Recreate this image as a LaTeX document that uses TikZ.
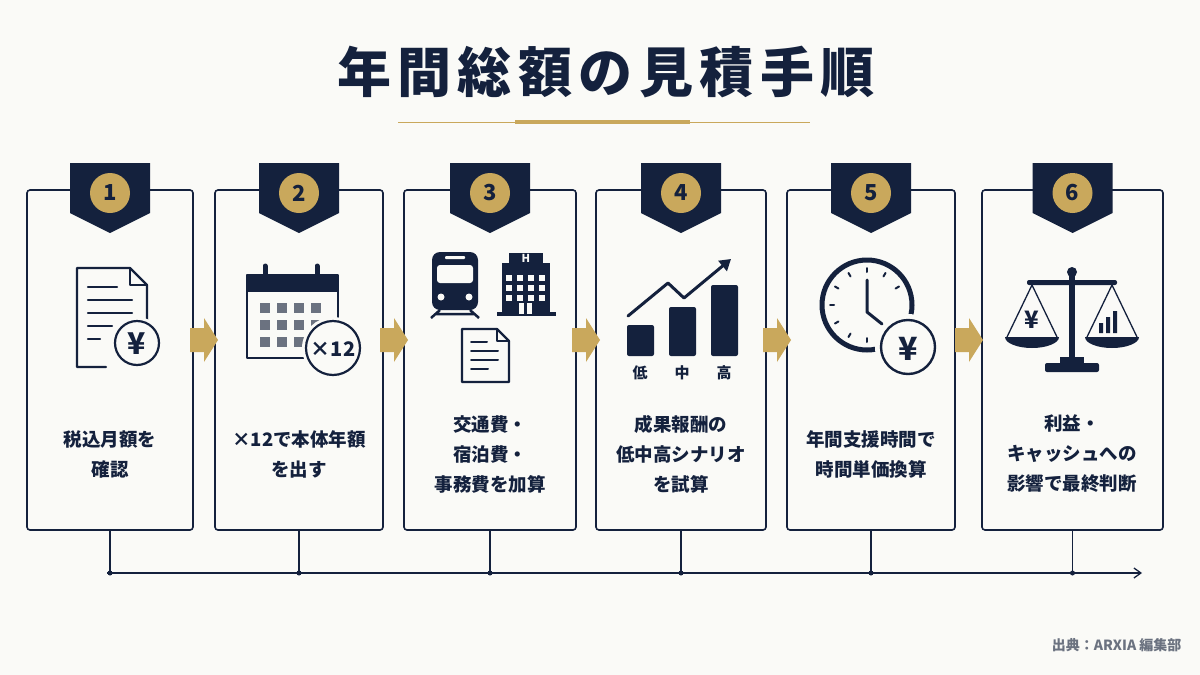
\documentclass[tikz,border=0pt]{standalone}
\usepackage{fontspec}
\setmainfont{Noto Sans CJK JP}
\usetikzlibrary{arrows.meta}
\definecolor{navy}{HTML}{14213D}
\definecolor{gold}{HTML}{C9A85C}
\definecolor{bg}{HTML}{FAFAF7}
\definecolor{sq}{HTML}{6B7280}
\begin{document}
\begin{tikzpicture}[x=1pt,y=-1pt,
 box/.style={draw=navy,line width=1.6pt,rounded corners=3pt,fill=bg},
 lbl/.style={font=\fontsize{18.5}{30}\selectfont\bfseries,text=navy,align=center},
 ic/.style={draw=navy,line width=2.6pt,line cap=round,line join=round},
 num/.style={font=\fontsize{22}{22}\selectfont\bfseries,text=navy}]
\fill[bg] (0,0) rectangle (1200,675);
\useasboundingbox (0,0) rectangle (1200,675);
\node[font=\fontsize{54}{54}\selectfont\bfseries\addfontfeatures{LetterSpace=12},text=navy] (title) at (606,72) {年間総額の見積手順};
\draw[gold,line width=1pt] (398,122) -- (810,122);
\draw[gold,line width=3.5pt] (515,122) -- (690,122);
% timeline
\coordinate (tl0) at (107,573);
\coordinate (tl1) at (1142,573);
\draw[navy,line width=1.3pt,-{Straight Barb[length=7pt,width=10pt]}] (tl0) -- (tl1);
\foreach \i/\a/\b in {1/27/193,2/215/383,3/404/576,4/596/766,5/787/955,6/982/1163}{
  \pgfmathsetmacro\c{(\a+\b)/2}
  \node[box,minimum width={\b-\a},minimum height=340,inner sep=0] (b\i) at (\c,360) {};
  \coordinate (d\i) at (\c,573);
  \draw[navy,line width=1.3pt] (b\i.south) -- (d\i);
  \fill[navy] (d\i) circle (2.5);
  \fill[navy] (\c-40,163) -- (\c+40,163) -- (\c+40,213) -- (\c,233) -- (\c-40,213) -- cycle;
  \fill[gold] (\c,193) circle (20);
  \node[num] (n\i) at (\c,193) {\i};
}
% gold arrows
\foreach \x in {190,380,572,763,955}{
  \fill[gold] (\x,328) -- (\x+14,328) -- (\x+14,318) -- (\x+28,340) -- (\x+14,362) -- (\x+14,352) -- (\x,352) -- cycle;
}
% labels
\node[lbl] (t1) at (110,454) {税込月額を\\確認};
\node[lbl] (t2) at (299,454) {×12で本体年額\\を出す};
\node[lbl] (t3) at (490,454) {交通費・\\宿泊費・\\事務費を加算};
\node[lbl] (t4) at (681,454) {成果報酬の\\低中高シナリオ\\を試算};
\node[lbl] (t5) at (871,454) {年間支援時間で\\時間単価換算};
\node[lbl] (t6) at (1072,454) {利益・\\キャッシュへの\\影響で最終判断};
% icon 1
\draw[ic,line width=2.2pt] (106,367) -- (77,367) -- (77,268) -- (130,268) -- (147,285) -- (147,322);
\draw[ic,line width=2.2pt] (130,268) -- (130,285) -- (147,285);
\foreach \y/\l in {287/117,300/132,313/132,326/112,339/100}{\draw[ic,line width=2.2pt] (88,\y) -- (\l,\y);}
\draw[bg,line width=4pt] (137,343) circle (24);
\draw[ic,line width=2.2pt,fill=bg] (137,343) circle (22);
\node[font=\fontsize{30}{30}\selectfont\bfseries,text=navy] (y1) at (137,344) {¥};
% icon 2
\draw[ic,line width=2.8pt,fill=bg] (247,275) rectangle (338,358);
\fill[navy] (247,275) rectangle (338,292);
\draw[navy,line width=5pt,line cap=round] (265,266) -- (265,278);
\draw[navy,line width=5pt,line cap=round] (317,266) -- (317,278);
\foreach \r in {0,1,2}{\foreach \k in {0,1,2,3}{
  \fill[sq] (260+\k*17,303+\r*17) rectangle ++(10,10);}}
\draw[bg,line width=4pt] (333,348) circle (29);
\draw[ic,line width=2.2pt,fill=bg] (333,348) circle (27);
\node[font=\fontsize{20}{20}\selectfont\bfseries,text=navy] (x12) at (333,349) {×12};
% icon 3 train
\fill[navy,rounded corners=8pt] (432,252) rectangle (478,310);
\fill[bg,rounded corners=3pt] (437,265) rectangle (473,283);
\fill[bg,rounded corners=1pt] (445,256) rectangle (465,259);
\fill[bg] (441,297) circle (3.5); \fill[bg] (469,297) circle (3.5);
\draw[navy,line width=2.5pt] (440,310) -- (431,318) (470,310) -- (479,318) (435,314) -- (475,314);
% building
\fill[navy] (509,253) rectangle (543,263);
\fill[navy] (502,263) rectangle (550,314);
\fill[navy] (497,312) rectangle (556,316);
\node[font=\fontsize{11}{11}\selectfont\bfseries,text=bg] (h) at (526,258) {H};
\foreach \r in {0,1,2}{\foreach \k in {0,1,2,3}{
  \fill[bg] (506+\k*11,275+\r*10) rectangle ++(6,6);}}
\fill[bg] (519,303) rectangle (524,314); \fill[bg] (527,303) rectangle (532,314);
% doc
\draw[ic,line width=2.2pt] (462,329) -- (497,329) -- (509,341) -- (509,382) -- (462,382) -- cycle;
\draw[ic,line width=2.2pt] (497,329) -- (497,341) -- (509,341);
\foreach \y/\l in {342/487,351/498,360/498,369/488}{\draw[ic,line width=2pt] (471,\y) -- (\l,\y);}
% icon 4
\fill[navy,rounded corners=2pt] (627,325) rectangle (654,356);
\fill[navy,rounded corners=2pt] (669,307) rectangle (696,356);
\fill[navy,rounded corners=2pt] (711,285) rectangle (738,356);
\draw[ic,line width=3pt,-{Triangle[length=11pt,width=13pt]}] (628,316) -- (668,283) -- (684,298) -- (731,259);
\foreach \x/\s in {640/低,682/中,724/高}{\node[font=\fontsize{15}{15}\selectfont\bfseries,text=navy] at (\x,373) {\s};}
% icon 5
\draw[navy,line width=5pt] (867,305) circle (45);
\draw[ic,line width=3pt] (867,280) -- (867,312) -- (882,324);
\foreach \a in {30,60,90,120,150,180,210,240,270}{\draw[navy,line width=2pt,line cap=round] ({867+37*cos(\a)},{305-37*sin(\a)}) -- ({867+33*cos(\a)},{305-33*sin(\a)});}
\draw[bg,line width=6pt] (908,347) circle (30);
\draw[ic,line width=2.4pt,fill=bg] (908,347) circle (27);
\node[font=\fontsize{32}{32}\selectfont\bfseries,text=navy] (y5) at (908,349) {¥};
% icon 6
\fill[navy] (1072,272) circle (5);
\fill[navy] (1069,275) rectangle (1075,362);
\fill[navy,rounded corners=2pt] (1027,280) rectangle (1117,285);
\fill[navy] (1060,357) rectangle (1084,364);
\fill[navy,rounded corners=2pt] (1045,363) rectangle (1099,372);
\draw[navy,line width=1.3pt] (1032,285) -- (1007,337) (1032,285) -- (1057,337);
\draw[navy,line width=1.3pt] (1112,285) -- (1087,337) (1112,285) -- (1137,337);
\fill[navy] (1005,337) -- (1059,337) arc (0:180:27 and 11) -- cycle;
\fill[navy] (1085,337) -- (1139,337) arc (0:180:27 and 11) -- cycle;
\node[font=\fontsize{24}{24}\selectfont\bfseries,text=navy] (y6) at (1032,320) {¥};
\fill[navy] (1099,323) rectangle (1103,333) (1106,317) rectangle (1110,333) (1113,311) rectangle (1117,333);
% footer
\node[anchor=east,font=\fontsize{14}{14}\selectfont\bfseries,text=sq] (src) at (1185,645) {出典：ARXIA 編集部};
\end{tikzpicture}
\end{document}
